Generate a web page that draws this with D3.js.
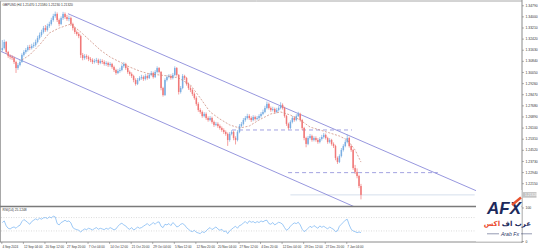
<!DOCTYPE html>
<html>
<head>
<meta charset="utf-8">
<script src="https://cdn.jsdelivr.net/npm/d3@7"></script>
<style>
  body { margin: 0; background: #fff; }
  svg { display: block; font-family: "Liberation Sans", Arial, sans-serif; }
</style>
</head>
<body>
<div id="chart"></div>
<script>
// GBPUSD H4, one candle here = 4 H4 bars
const firstOpen = 1.3160;
const closes = [
  1.3175,1.3218,1.3147,1.3118,1.3111,1.3104,1.3076,1.3033,1.3054,1.3076,
  1.3126,1.3147,1.3161,1.3182,1.3175,1.3189,1.3197,1.3218,1.3246,1.3268,
  1.3289,1.3317,1.3303,1.3331,1.3346,1.3374,1.3402,1.3417,1.3374,1.3346,
  1.3388,1.3417,1.3395,1.3381,1.3388,1.3346,1.3317,1.3289,1.3275,1.3260,
  1.3126,1.3104,1.3118,1.3111,1.3097,1.3090,1.3076,1.3083,1.3090,1.3069,
  1.3083,1.3076,1.3062,1.3069,1.3054,1.3062,1.3040,1.3019,1.2998,1.3012,
  1.3019,1.3047,1.3062,1.3033,1.3005,1.2991,1.2976,1.2948,1.2920,1.2948,
  1.2962,1.2969,1.2955,1.2976,1.2962,1.2984,1.2998,1.2969,1.3005,1.3033,
  1.3005,1.2891,1.2841,1.2948,1.2969,1.2976,1.2962,1.2984,1.3033,1.2984,
  1.2863,1.2891,1.2976,1.2962,1.2920,1.2891,1.2877,1.2849,1.2820,1.2778,
  1.2735,1.2721,1.2692,1.2707,1.2678,1.2664,1.2678,1.2650,1.2629,1.2636,
  1.2621,1.2607,1.2593,1.2579,1.2565,1.2522,1.2565,1.2579,1.2536,1.2522,
  1.2579,1.2621,1.2636,1.2664,1.2678,1.2692,1.2678,1.2664,1.2685,1.2671,
  1.2678,1.2692,1.2707,1.2721,1.2749,1.2778,1.2749,1.2735,1.2742,1.2721,
  1.2735,1.2749,1.2771,1.2749,1.2692,1.2636,1.2607,1.2650,1.2678,1.2664,
  1.2692,1.2707,1.2664,1.2607,1.2536,1.2494,1.2536,1.2550,1.2522,1.2536,
  1.2522,1.2508,1.2529,1.2543,1.2558,1.2536,1.2508,1.2522,1.2494,1.2479,
  1.2394,1.2366,1.2408,1.2451,1.2479,1.2508,1.2536,1.2479,1.2451,1.2323,
  1.2295,1.2266,1.2195,1.2132
];
const highs = [
  1.3232,1.3235,1.3225,1.3155,1.3130,1.3125,1.3115,1.3085,1.3068,1.3090,
  1.3138,1.3160,1.3175,1.3195,1.3198,1.3205,1.3215,1.3235,1.3262,1.3285,
  1.3305,1.3332,1.3338,1.3348,1.3362,1.3390,1.3418,1.3434,1.3428,1.3385,
  1.3400,1.3432,1.3428,1.3410,1.3405,1.3398,1.3355,1.3325,1.3300,1.3288,
  1.3270,1.3140,1.3132,1.3130,1.3122,1.3110,1.3102,1.3098,1.3105,1.3100,
  1.3098,1.3095,1.3088,1.3082,1.3078,1.3075,1.3070,1.3050,1.3028,1.3025,
  1.3035,1.3060,1.3075,1.3070,1.3045,1.3015,1.3002,1.2985,1.2960,1.2962,
  1.2975,1.2985,1.2980,1.2990,1.2988,1.2998,1.3012,1.3008,1.3018,1.3045,
  1.3040,1.3012,1.2900,1.2960,1.2982,1.2990,1.2988,1.2998,1.3045,1.3040,
  1.2990,1.2905,1.2990,1.2985,1.2970,1.2930,1.2905,1.2888,1.2860,1.2832,
  1.2790,1.2748,1.2732,1.2720,1.2718,1.2690,1.2692,1.2688,1.2660,1.2650,
  1.2648,1.2632,1.2618,1.2605,1.2590,1.2575,1.2578,1.2592,1.2588,1.2548,
  1.2592,1.2635,1.2650,1.2678,1.2692,1.2708,1.2705,1.2690,1.2698,1.2695,
  1.2692,1.2705,1.2720,1.2738,1.2765,1.2795,1.2788,1.2760,1.2758,1.2752,
  1.2750,1.2762,1.2790,1.2782,1.2758,1.2700,1.2645,1.2662,1.2692,1.2690,
  1.2705,1.2722,1.2715,1.2672,1.2615,1.2545,1.2550,1.2565,1.2560,1.2548,
  1.2548,1.2535,1.2542,1.2558,1.2572,1.2568,1.2545,1.2535,1.2530,1.2505,
  1.2488,1.2405,1.2420,1.2465,1.2492,1.2522,1.2560,1.2545,1.2490,1.2458,
  1.2345,1.2320,1.2275,1.2210
];
const lows = [
  1.3150,1.3165,1.3135,1.3105,1.3095,1.3090,1.3062,1.2998,1.3020,1.3045,
  1.3070,1.3115,1.3135,1.3150,1.3160,1.3165,1.3176,1.3185,1.3208,1.3235,
  1.3255,1.3278,1.3290,1.3292,1.3318,1.3335,1.3362,1.3390,1.3360,1.3330,
  1.3338,1.3375,1.3382,1.3368,1.3365,1.3332,1.3300,1.3275,1.3262,1.3245,
  1.3105,1.3088,1.3092,1.3095,1.3082,1.3075,1.3062,1.3065,1.3070,1.3055,
  1.3060,1.3062,1.3050,1.3048,1.3040,1.3042,1.3028,1.3005,1.2985,1.2990,
  1.3000,1.3010,1.3035,1.3020,1.2992,1.2978,1.2962,1.2932,1.2908,1.2912,
  1.2940,1.2950,1.2942,1.2945,1.2950,1.2955,1.2975,1.2958,1.2962,1.2995,
  1.2995,1.2875,1.2830,1.2835,1.2938,1.2960,1.2950,1.2952,1.2975,1.2972,
  1.2845,1.2852,1.2882,1.2948,1.2908,1.2878,1.2862,1.2835,1.2808,1.2765,
  1.2722,1.2708,1.2680,1.2682,1.2665,1.2652,1.2655,1.2638,1.2615,1.2620,
  1.2608,1.2595,1.2580,1.2565,1.2552,1.2480,1.2510,1.2555,1.2520,1.2490,
  1.2512,1.2570,1.2610,1.2625,1.2652,1.2668,1.2665,1.2650,1.2655,1.2660,
  1.2662,1.2668,1.2680,1.2698,1.2712,1.2740,1.2738,1.2722,1.2725,1.2710,
  1.2712,1.2725,1.2740,1.2738,1.2680,1.2622,1.2595,1.2600,1.2640,1.2652,
  1.2655,1.2685,1.2652,1.2592,1.2520,1.2470,1.2485,1.2525,1.2510,1.2512,
  1.2510,1.2495,1.2498,1.2518,1.2532,1.2525,1.2495,1.2498,1.2482,1.2465,
  1.2378,1.2352,1.2358,1.2398,1.2440,1.2470,1.2498,1.2468,1.2438,1.2310,
  1.2280,1.2250,1.2180,1.2100
];

// dashed moving average, read at a few candle positions
const maIndex = [10,14,19,24,29,35,40,45,50,55,60,65,70,75,80,85,90,96,101,106,111,116,121,126,131,137,142,147,152,157,162,167,172,176,180,183];
const maValues = [1.3090,1.3126,1.3197,1.3282,1.3317,1.3346,1.3289,1.3225,1.3161,1.3111,1.3076,1.3040,1.3012,1.2991,1.2984,1.2976,1.2962,1.2913,1.2820,1.2721,1.2671,1.2629,1.2607,1.2621,1.2664,1.2707,1.2721,1.2699,1.2664,1.2614,1.2593,1.2572,1.2550,1.2522,1.2451,1.2365];

const rsiValues = [
  55,60,45,38,36,40,42,38,44,47,
  58,64,60,55,50,58,62,66,63,68,
  65,69,70,67,72,69,74,72,52,48,
  55,58,62,58,60,54,40,36,34,32,
  27,32,36,34,38,36,33,37,40,35,
  38,36,34,38,35,40,37,33,36,44,
  50,53,48,45,38,35,40,33,36,42,
  38,40,44,48,52,46,50,55,50,56,
  57,44,40,50,48,52,46,55,50,42,
  44,50,52,48,40,35,30,28,32,26,
  24,22,28,25,30,36,40,34,38,42,
  36,32,35,28,30,22,30,35,40,44,
  38,46,48,54,58,52,60,56,58,54,
  58,55,60,57,61,62,52,50,55,48,
  52,56,54,50,40,32,36,44,50,54,
  52,56,48,35,28,32,38,44,40,46,
  42,38,45,41,44,40,36,42,38,35,
  28,30,44,50,56,62,65,48,35,30,
  28,25,27,25
];
const rsiLevels = [70, 30];
const rsiTicks = [100, 0];

// channel lines and horizontal levels: [candle position, price]
const channelUpper = [[33.5, 1.3419], [242.7, 1.2156]];
const channelLower = [[-1.2, 1.3154], [179.4, 1.2049]];
const channelTail = [[242.7, 1.2156], [257.5, 1.2056]];
const levels = [
  { from: 117.2, to: 178.4, price: 1.2593 },
  { from: 145.8, to: 222.2, price: 1.2290 }
];

const priceTicks = [1.34790,1.34000,1.33210,1.32420,1.31630,1.30840,1.30050,1.29260,1.28470,1.27680,1.26890,1.26100,1.25310,1.24520,1.23730,1.22940,1.22150];
const timeTickBars = [0,44,88,132,176,220,264,308,352,396,440,484,528,572,616,660,704];
const timeLabels = ["4 Sep 2024","12 Sep 04:00","20 Sep 12:00","27 Sep 20:00","7 Oct 04:00","14 Oct 12:00","21 Oct 20:00","29 Oct 04:00","5 Nov 12:00","12 Nov 20:00","20 Nov 04:00","27 Nov 12:00","4 Dec 20:00","12 Dec 04:00","19 Dec 12:00","27 Dec 20:00","7 Jan 04:00"];

const W = 538, H = 250;
const upColor = "#7aaee2", downColor = "#f07878";
const axisFont = "Liberation Sans, Arial, sans-serif";

const svg = d3.select("#chart").append("svg")
    .attr("width", W)
    .attr("height", H);

const x = d3.scaleLinear().domain([0, 265]).range([2.3, 521.7]);
const y = d3.scaleLinear().domain([1.2053, 1.3495]).range([206, 3]);
const yr = d3.scaleLinear().domain([0, 100]).range([241, 207.5]);

svg.append("defs").append("clipPath").attr("id", "main")
    .append("rect").attr("x", 1).attr("y", 1.5).attr("width", 521).attr("height", 204.5);

const candles = closes.map((c, i) => ({
    i,
    o: i ? closes[i - 1] : firstOpen,
    c,
    h: highs[i],
    l: lows[i]
}));

// frame
svg.append("line").attr("x1", 0).attr("x2", 522).attr("y1", 1).attr("y2", 1)
    .attr("stroke", "#a8a8a8").attr("stroke-width", 1);
svg.append("line").attr("x1", 0.5).attr("x2", 0.5).attr("y1", 1).attr("y2", 242)
    .attr("stroke", "#a8a8a8").attr("stroke-width", 1);

const main = svg.append("g").attr("clip-path", "url(#main)");

// bid line
const lastClose = closes[closes.length - 1];
main.append("line")
    .attr("x1", x(147)).attr("x2", x(241))
    .attr("y1", y(lastClose)).attr("y2", y(lastClose))
    .attr("stroke", "#c9d6e6").attr("stroke-width", 0.8);

const line = d3.line().x(d => x(d[0])).y(d => y(d[1]));

[channelUpper, channelLower].forEach(pts => {
    main.append("path").attr("d", line(pts))
        .attr("fill", "none").attr("stroke", "#7c7cd6").attr("stroke-width", 0.8);
});
main.append("path").attr("d", line(channelTail))
    .attr("fill", "none").attr("stroke", "#d8d8ec").attr("stroke-width", 0.7);

levels.forEach(l => {
    main.append("line")
        .attr("x1", x(l.from)).attr("x2", x(l.to))
        .attr("y1", y(l.price)).attr("y2", y(l.price))
        .attr("stroke", "#8a8ad8").attr("stroke-width", 0.8)
        .attr("stroke-dasharray", "4,3");
});

// candles
const cg = main.append("g");
cg.selectAll(".wick")
    .data(candles)
    .join("line")
    .attr("class", "wick")
    .attr("x1", d => x(d.i)).attr("x2", d => x(d.i))
    .attr("y1", d => y(d.h)).attr("y2", d => y(d.l))
    .attr("stroke", d => d.c >= d.o ? upColor : downColor)
    .attr("stroke-width", 0.7);
cg.selectAll(".body")
    .data(candles)
    .join("rect")
    .attr("class", "body")
    .attr("x", d => x(d.i) - 0.75)
    .attr("width", 1.5)
    .attr("y", d => y(Math.max(d.o, d.c)))
    .attr("height", d => Math.max(0.6, Math.abs(y(d.o) - y(d.c))))
    .attr("fill", d => d.c >= d.o ? upColor : downColor);

// moving average
main.append("path")
    .attr("d", d3.line().x((d, k) => x(maIndex[k])).y(d => y(d))(maValues))
    .attr("fill", "none").attr("stroke", "#c98272").attr("stroke-width", 0.7)
    .attr("stroke-dasharray", "2,1.5");

// header
svg.append("text").attr("x", 2.5).attr("y", 5.5)
    .attr("font-size", 3.3).attr("fill", "#333")
    .text("GBPUSD,H4  1.21470 1.21580 1.21230 1.21320");

// separators
svg.append("line").attr("x1", 0).attr("x2", 522).attr("y1", 206.5).attr("y2", 206.5)
    .attr("stroke", "#7a7a7a").attr("stroke-width", 1.6);
svg.append("line").attr("x1", 0).attr("x2", 522).attr("y1", 242).attr("y2", 242)
    .attr("stroke", "#8a8a8a").attr("stroke-width", 1);
svg.append("line").attr("x1", 522).attr("x2", 522).attr("y1", 0).attr("y2", 243)
    .attr("stroke", "#8a8a8a").attr("stroke-width", 1);

// price axis
const pa = svg.append("g").attr("transform", "translate(522,0)")
    .call(d3.axisRight(y).tickValues(priceTicks).tickFormat(d3.format(".5f")).tickSize(2).tickPadding(1.5));
pa.select(".domain").remove();
pa.selectAll("text").attr("font-size", 3.4).attr("fill", "#333").attr("font-family", axisFont);
pa.selectAll("line").attr("stroke", "#666").attr("stroke-width", 0.5);

// bid label
const lastY = y(lastClose);
svg.append("rect").attr("x", 522.5).attr("y", lastY - 2.8).attr("width", 14).attr("height", 5.6).attr("fill", "#c4c4c4");
svg.append("text").attr("x", 525).attr("y", lastY + 1.2)
    .attr("font-size", 3.4).attr("fill", "#fff").attr("font-family", axisFont)
    .text(d3.format(".5f")(lastClose));

// RSI panel
rsiLevels.forEach(v => {
    svg.append("line").attr("x1", 1).attr("x2", 522).attr("y1", yr(v)).attr("y2", yr(v))
        .attr("stroke", "#c4c4c4").attr("stroke-width", 0.6).attr("stroke-dasharray", "1,1.5");
});
svg.append("path")
    .attr("d", d3.line().x((d, k) => x(k)).y(d => yr(d))(rsiValues))
    .attr("fill", "none").attr("stroke", "#72b2f2").attr("stroke-width", 0.7);
svg.append("text").attr("x", 2.5).attr("y", 211.3)
    .attr("font-size", 3.3).attr("fill", "#333")
    .text("RSI(14) 25.1248");

const ra = svg.append("g").attr("transform", "translate(522,0)")
    .call(d3.axisRight(yr).tickValues(rsiTicks).tickSize(2).tickPadding(1.5));
ra.select(".domain").remove();
ra.selectAll("text").attr("font-size", 3.4).attr("fill", "#333").attr("font-family", axisFont);
ra.selectAll("line").attr("stroke", "#666").attr("stroke-width", 0.5);

// time axis
const ta = svg.append("g").attr("transform", "translate(0,242)")
    .call(d3.axisBottom(x).tickValues(timeTickBars.map(b => (b - 2) / 4))
        .tickFormat((d, k) => timeLabels[k]).tickSize(2).tickPadding(1.5));
ta.select(".domain").remove();
ta.selectAll("text").attr("font-size", 3.1).attr("fill", "#333")
    .attr("text-anchor", "start").attr("dx", 0.6)
    .attr("font-family", axisFont);
ta.selectAll("line").attr("stroke", "#666").attr("stroke-width", 0.5);

// logo
const logo = svg.append("g");
logo.append("rect").attr("x", 476).attr("y", 190).attr("width", 45.5).attr("height", 51.5).attr("fill", "#fff");
logo.append("text").attr("x", 487).attr("y", 214)
    .attr("font-size", 17).attr("font-weight", "bold").attr("font-style", "italic")
    .attr("font-family", axisFont)
    .attr("fill", "#1d2a5c").text("AFX");
logo.append("line").attr("x1", 512).attr("y1", 205).attr("x2", 521).attr("y2", 197.5)
    .attr("stroke", "#e8532f").attr("stroke-width", 2.4);
const arRight = logo.append("text").attr("x", 531).attr("y", 226)
    .attr("font-size", 7).attr("font-weight", "bold").attr("text-anchor", "end")
    .attr("font-family", "DejaVu Sans, sans-serif")
    .attr("fill", "#1d2a5c").text("عرب اف");
const arW = arRight.node().getComputedTextLength();
logo.append("text").attr("x", 531 - arW - 1.8).attr("y", 226)
    .attr("font-size", 7).attr("font-weight", "bold").attr("text-anchor", "end")
    .attr("font-family", "DejaVu Sans, sans-serif")
    .attr("fill", "#ea4b2f").text("اكس");
logo.append("text").attr("x", 510).attr("y", 235.5)
    .attr("font-size", 5.2).attr("font-style", "italic").attr("text-anchor", "middle")
    .attr("font-family", axisFont)
    .attr("fill", "#2a3766").text("Arab Fx");
logo.append("line").attr("x1", 487).attr("x2", 499).attr("y1", 233.8).attr("y2", 233.8)
    .attr("stroke", "#2a3766").attr("stroke-width", 0.5);
logo.append("line").attr("x1", 521).attr("x2", 532).attr("y1", 233.8).attr("y2", 233.8)
    .attr("stroke", "#2a3766").attr("stroke-width", 0.5);
</script>
</body>
</html>
